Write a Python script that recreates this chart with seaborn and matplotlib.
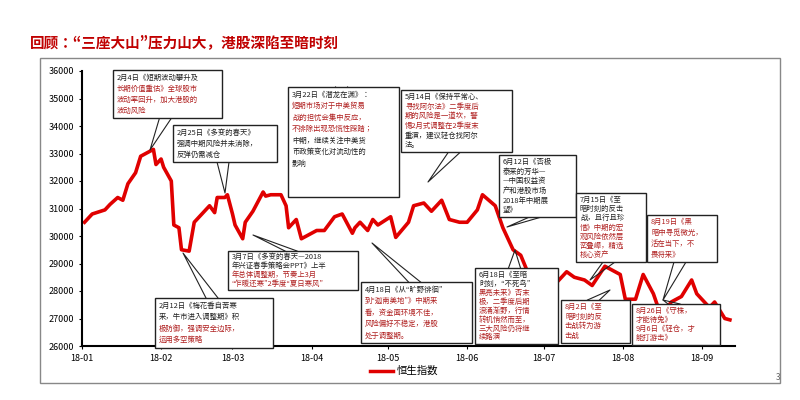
import matplotlib
matplotlib.use("Agg")
import matplotlib.pyplot as plt
import matplotlib.dates as mdates
from matplotlib import font_manager
from matplotlib.patches import Rectangle
import seaborn as sns
import pandas as pd

cands = [f.name for f in font_manager.fontManager.ttflist if "CJK" in f.name]
pref = [n for n in cands if n.endswith("SC")] or cands
cjk = pref[0] if pref else "DejaVu Sans"
plt.rcParams["font.family"] = "sans-serif"
plt.rcParams["font.sans-serif"] = [cjk, "DejaVu Sans"]

dates = ["2018-01-02","2018-01-05","2018-01-10","2018-01-12","2018-01-15","2018-01-17","2018-01-19","2018-01-22","2018-01-24","2018-01-26","2018-01-29","2018-01-30","2018-02-01","2018-02-02","2018-02-05","2018-02-06","2018-02-08","2018-02-09","2018-02-12","2018-02-14","2018-02-20","2018-02-22","2018-02-23","2018-02-26","2018-02-27","2018-03-01","2018-03-02","2018-03-05","2018-03-06","2018-03-09","2018-03-13","2018-03-14","2018-03-16","2018-03-20","2018-03-22","2018-03-23","2018-03-26","2018-03-28","2018-04-03","2018-04-06","2018-04-10","2018-04-13","2018-04-17","2018-04-18","2018-04-20","2018-04-23","2018-04-25","2018-04-27","2018-05-02","2018-05-04","2018-05-09","2018-05-11","2018-05-15","2018-05-18","2018-05-22","2018-05-25","2018-05-29","2018-06-01","2018-06-05","2018-06-07","2018-06-12","2018-06-15","2018-06-19","2018-06-22","2018-06-26","2018-06-28","2018-07-03","2018-07-05","2018-07-10","2018-07-13","2018-07-17","2018-07-20","2018-07-25","2018-07-27","2018-07-31","2018-08-02","2018-08-06","2018-08-09","2018-08-13","2018-08-16","2018-08-20","2018-08-24","2018-08-28","2018-08-30","2018-09-04","2018-09-06","2018-09-10","2018-09-12"]
hsi = [30500,30800,30950,31150,31400,31300,31900,32300,32900,33000,33150,32600,32800,32500,32000,30400,30300,29500,29450,30500,31100,30850,31400,31400,31500,30800,30400,29900,30500,30900,31600,31450,31500,31500,31100,30300,30600,29900,30200,30200,30700,30800,30100,30300,30500,30200,30600,30400,30700,29950,30500,31100,31200,30900,31300,30600,30500,30500,30950,31500,31100,30300,29500,29300,28400,28500,28600,28200,28700,28500,28400,28200,28900,28800,28600,27700,27700,28600,27900,27100,27600,27800,28400,27900,27400,27600,27000,26950]
df = pd.DataFrame({"date": pd.to_datetime(dates), "hsi": hsi})

W, H = 800, 400
fig = plt.figure(figsize=(8, 4), dpi=100)
def fx(x): return x / W
def fy(y): return 1 - y / H

ax = fig.add_axes([fx(82), fy(346), fx(735) - fx(82), fy(71) - fy(346)])
sns.lineplot(data=df, x="date", y="hsi", ax=ax, color="#e00000", linewidth=2.6, label="恒生指数", legend=False)
ax.set_xlim(pd.Timestamp("2018-01-01"), pd.Timestamp("2018-09-14"))
ax.set_ylim(26000, 36000)
ax.set_yticks(range(26000, 36001, 1000))
ax.xaxis.set_major_locator(mdates.MonthLocator())
ax.xaxis.set_major_formatter(mdates.DateFormatter("%y-%m"))
ax.tick_params(labelsize=6.5, length=2)
ax.set_xlabel(""); ax.set_ylabel("")
for s in ["top", "right"]:
    ax.spines[s].set_visible(False)
ax.spines["left"].set_linewidth(1.5); ax.spines["bottom"].set_linewidth(1.5)

fig.patches.append(Rectangle((fx(40), fy(383)), fx(780) - fx(40), fy(58) - fy(383), transform=fig.transFigure, fill=False, ec="#888888", lw=1))
fig.text(fx(30), fy(42), "回顾：“三座大山”压力山大，港股深陷至暗时刻", color="#c00000", fontsize=10.5, fontweight="bold", va="center")
fig.text(fx(776), fy(377), "3", fontsize=6, color="#666666", va="center")
fig.lines.append(plt.Line2D([fx(370), fx(393)], [fy(371)] * 2, transform=fig.transFigure, color="#e00000", lw=2.5))
fig.text(fx(397), fy(371), "恒生指数", fontsize=7.5, va="center")

R = "#b02020"; K = "#222222"
boxes = [
    ((113, 70, 222, 118), (150, 150), [("2月4日《短期波动攀升及", K), ("长期价值重估》全球股市", R), ("波动率回升，加大港股的", R), ("波动风险", R)]),
    ((173, 125, 277, 162), (225, 193), [("2月25日《多变的春天》", K), ("强调中期风险并未消除，", K), ("反弹仍需减仓", K)]),
    ((288, 87, 399, 197), (293, 195), [("3月22日《潜龙在渊》：", K), ("短期市场对于中美贸易", R), ("战的担忧会集中反应，", R), ("不排除出现恐慌性踩踏；", R), ("中期，继续关注中美货", K), ("币政策变化对流动性的", K), ("影响", K)]),
    ((401, 90, 512, 152), (428, 182), [("5月14日《保持平常心、", K), ("寻找阿尔法》二季度后", R), ("期的风险是一道坎，警", R), ("惕2月式调整在2季度末", R), ("重演，建议轻仓找阿尔", K), ("法。", K)]),
    ((499, 155, 576, 217), (507, 227), [("6月12日《否极", K), ("泰来的芳华—", K), ("—中国权益资", K), ("产和港股市场", K), ("2018年中期展", K), ("望》", K)]),
    ((576, 193, 646, 262), (590, 280), [("7月15日《至", K), ("暗时刻的反击", K), ("战，且行且珍", K), ("惜》中期的宏", R), ("观风险依然层", R), ("峦叠嶂，精选", R), ("核心资产", R)]),
    ((647, 215, 717, 262), (663, 300), [("8月19日《黑", R), ("暗中寻觅微光，", R), ("活在当下，不", R), ("畏将来》", R)]),
    ((228, 251, 358, 290), (253, 235), [("3月7日《多变的春天—2018", K), ("年兴证春季策略会PPT》上半", K), ("年总体调整期，节奏上3月", R), ("“乍暖还寒”2季度“夏日寒风”", R)]),
    ((155, 298, 273, 348), (183, 253), [("2月12日《梅花香自苦寒", K), ("来，牛市进入调整期》积", K), ("极防御，强调安全边际，", R), ("运用多空策略", R)]),
    ((361, 282, 472, 343), (372, 243), [("4月18日《从“旷野徘徊”", K), ("到“迦南美地”》中期来", R), ("看，资金面环境不佳，", R), ("风险偏好不稳定，港股", R), ("处于调整期。", R)]),
    ((475, 268, 558, 344), (515, 250), [("6月18日《至暗", K), ("时刻，“不死鸟”", K), ("黑亮未来》否末", R), ("极，二季度后期", R), ("浪涌渐野，行情", R), ("转机悄然而至，", R), ("三大风险仍将继", R), ("续路演", R)]),
    ((561, 300, 630, 343), (610, 290), [("8月2日《至", R), ("暗时刻的反", R), ("击战转为游", R), ("击战", R)]),
    ((632, 304, 720, 345), (663, 300), [("8月26日《守株，", R), ("才能待兔》", R), ("9月6日《轻仓，才", R), ("能打游击》", R)]),
]
for (x0, y0, x1, y1), (px, py), lines in boxes:
    cx = (x0 + x1) / 2
    ey = y1 if py > y1 else y0
    fig.lines.append(plt.Line2D([fx(cx - 8), fx(px), fx(cx + 4)], [fy(ey), fy(py), fy(ey)], transform=fig.transFigure, color="#222222", lw=0.8))
    fig.patches.append(Rectangle((fx(x0), fy(y1)), fx(x1) - fx(x0), fy(y0) - fy(y1), transform=fig.transFigure, fc="white", ec="#222222", lw=1, zorder=5))
    n = len(lines)
    step = min(11.5, (y1 - y0 - 4) / n)
    for i, (t, c) in enumerate(lines):
        fig.text(fx(x0 + 4), fy(y0 + 2 + step * (i + 0.5)), t, color=c, fontsize=5.3, va="center", zorder=6)

fig.savefig("out.png", dpi=100)
